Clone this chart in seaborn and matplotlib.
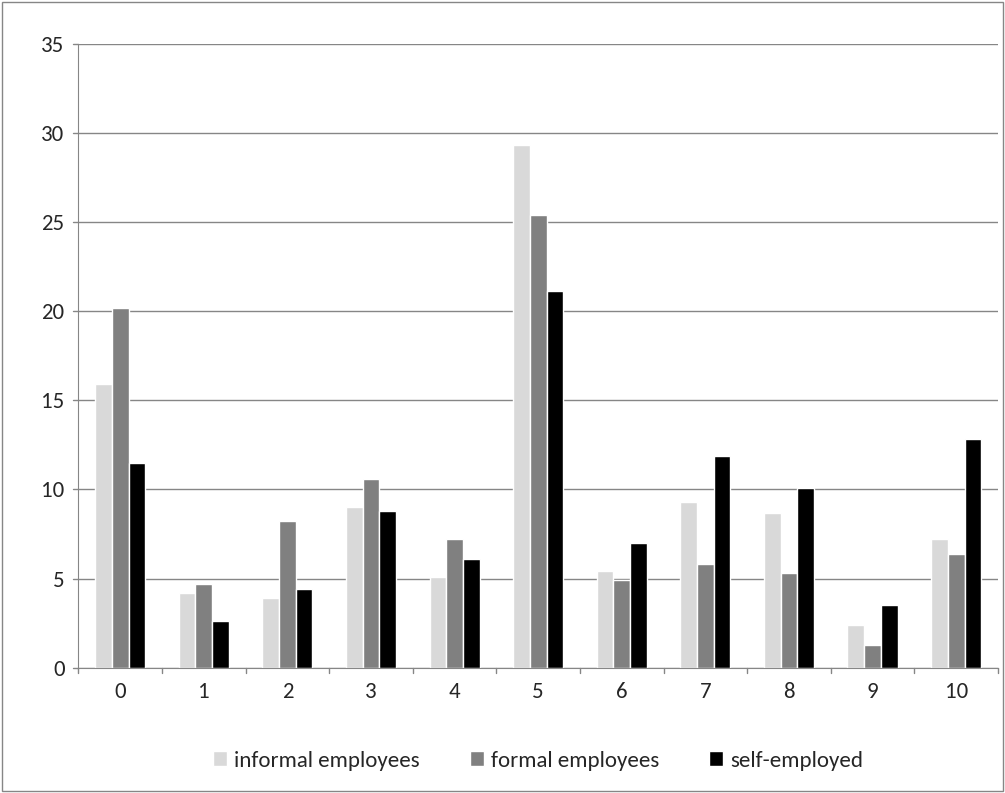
import pandas as pd
import seaborn as sns
import matplotlib.pyplot as plt
from matplotlib.patches import Rectangle

categories = [str(i) for i in range(11)]
informal = [15.9, 4.2, 3.9, 9.0, 5.1, 29.3, 5.4, 9.3, 8.7, 2.4, 7.2]
formal = [20.2, 4.7, 8.2, 10.6, 7.2, 25.4, 4.9, 5.8, 5.3, 1.3, 6.4]
self_emp = [11.5, 2.6, 4.4, 8.8, 6.1, 21.1, 7.0, 11.9, 10.1, 3.5, 12.8]
series = ["informal employees", "formal employees", "self-employed"]
colors = ["#d9d9d9", "#808080", "#000000"]

df = pd.DataFrame({"cat": categories * 3,
                   "val": informal + formal + self_emp,
                   "series": [s for s in series for _ in categories]})

sns.set_style("white")
plt.rcParams['font.family'] = ['Calibri', 'Carlito', 'DejaVu Sans']
fig = plt.figure(figsize=(10.05, 7.93), dpi=100)
ax = fig.add_axes([0.078, 0.158, 0.915, 0.787])
sns.barplot(data=df, x="cat", y="val", hue="series", palette=colors,
            width=0.6, saturation=1, ax=ax)
ax.set_ylim(0, 35)
ax.set_xlim(-0.5, 10.5)
ax.set_yticks(range(0, 36, 5))
ax.yaxis.grid(True, color="#868686", linewidth=1)
ax.set_axisbelow(True)
for s in ["top", "right"]:
    ax.spines[s].set_visible(False)
for s in ["left", "bottom"]:
    ax.spines[s].set_color("#868686")
ax.set_xlabel("")
ax.set_ylabel("")
ax.tick_params(axis="both", labelsize=16.5, length=0, pad=10)
for x in range(12):
    ax.plot([x - 0.5, x - 0.5], [0, -0.3], color="#868686", lw=1, clip_on=False)
for y in range(0, 36, 5):
    ax.plot([-0.5, -0.56], [y, y], color="#868686", lw=1, clip_on=False)
ax.legend(loc="upper center", bbox_to_anchor=(0.5, -0.1), ncol=3, frameon=False,
          fontsize=16.5, handlelength=0.6, handleheight=0.6, columnspacing=2.2,
          handletextpad=0.3)
fig.patches.append(Rectangle((0.002, 0.002), 0.996, 0.996, transform=fig.transFigure,
                             fill=False, edgecolor="#868686", lw=1))
fig.savefig("out.png", dpi=100)
